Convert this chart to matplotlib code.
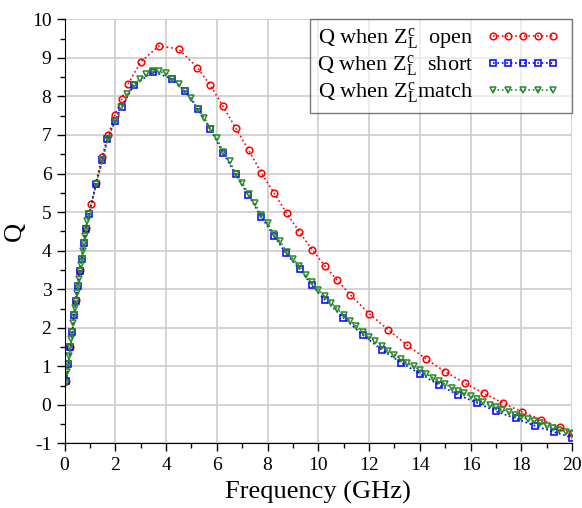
import matplotlib
matplotlib.use('Agg')
import matplotlib.pyplot as plt
from matplotlib.ticker import MultipleLocator
from matplotlib.legend_handler import HandlerLine2D

plt.rcParams['font.family'] = ['Liberation Serif', 'DejaVu Serif']
plt.rcParams['mathtext.fontset'] = 'custom'
plt.rcParams['mathtext.rm'] = 'Liberation Serif'
plt.rcParams['mathtext.it'] = 'Liberation Serif:italic'
plt.rcParams['axes.unicode_minus'] = False

# Q when Z_L^c open (red circles)
f_open = [0.06, 0.23, 0.44, 0.61, 0.84, 1.04, 1.24, 1.46, 1.72, 1.98, 2.25, 2.50, 3.01,
          3.72, 4.49, 5.23, 5.74, 6.24, 6.74, 7.25, 7.75, 8.26, 8.75, 9.25, 9.75, 10.25,
          10.75, 11.25, 12.0, 12.75, 13.5, 14.25, 15.0, 15.76, 16.52, 17.27, 18.02, 18.77,
          19.51, 20.0]
q_open = [0.62, 1.50, 2.72, 3.50, 4.60, 5.20, 5.76, 6.42, 6.99, 7.51, 7.94, 8.32, 8.90,
          9.31, 9.23, 8.75, 8.29, 7.75, 7.18, 6.61, 6.02, 5.49, 4.97, 4.49, 4.03, 3.61,
          3.23, 2.86, 2.37, 1.95, 1.55, 1.19, 0.86, 0.57, 0.30, 0.05, -0.18, -0.38,
          -0.58, -0.73]

# Q when Z_L^c short (blue squares)
f_short = [0.06, 0.15, 0.23, 0.31, 0.37, 0.44, 0.52, 0.61, 0.68, 0.77, 0.84, 0.97, 1.24,
           1.49, 1.68, 1.98, 2.25, 2.73, 3.49, 4.25, 4.73, 5.26, 5.74, 6.24, 6.74, 7.24,
           7.75, 8.24, 8.73, 9.26, 9.75, 10.25, 10.99, 11.74, 12.50, 13.25, 14.00, 14.75,
           15.51, 16.26, 17.02, 17.77, 18.53, 19.27, 20.0]
q_short = [0.61, 1.06, 1.49, 1.90, 2.34, 2.70, 3.08, 3.47, 3.79, 4.20, 4.57, 4.96, 5.72,
           6.35, 6.89, 7.35, 7.73, 8.29, 8.64, 8.45, 8.14, 7.67, 7.15, 6.54, 5.98, 5.44,
           4.88, 4.39, 3.93, 3.52, 3.10, 2.73, 2.26, 1.82, 1.43, 1.10, 0.81, 0.52,
           0.26, 0.05, -0.17, -0.35, -0.54, -0.70, -0.85]

# Q when Z_L^c match (green triangles)
f_match = [0.05, 0.10, 0.15, 0.19, 0.23, 0.27, 0.31, 0.34, 0.37, 0.41, 0.44, 0.48, 0.52,
           0.56, 0.61, 0.64, 0.68, 0.72, 0.77, 0.80, 0.84, 0.90, 0.97, 1.24, 1.49, 1.70,
           1.98, 2.22, 2.46, 2.72, 2.97, 3.22, 3.47, 3.72, 3.98, 4.24, 4.50, 4.75, 5.00,
           5.25, 5.50, 5.75, 6.00, 6.25, 6.50, 6.75, 7.00, 7.25, 7.50, 7.75, 8.00, 8.25,
           8.50, 8.75, 9.00, 9.25, 9.50, 9.75, 10.0, 10.25, 10.5, 10.75, 11.0, 11.25,
           11.5, 11.75, 12.0, 12.25, 12.5, 12.75, 13.0, 13.25, 13.5, 13.75, 14.0, 14.25,
           14.5, 14.75, 15.0, 15.25, 15.5, 15.75, 16.0, 16.25, 16.5, 16.75, 17.0, 17.25,
           17.5, 17.75, 18.0, 18.25, 18.5, 18.75, 19.0, 19.25, 19.5, 19.75, 20.0]
q_match = [0.58, 0.85, 1.06, 1.28, 1.49, 1.70, 1.90, 2.12, 2.34, 2.52, 2.70, 2.89, 3.08,
           3.27, 3.47, 3.63, 3.79, 4.00, 4.20, 4.38, 4.57, 4.77, 4.96, 5.72, 6.36, 6.90,
           7.36, 7.72, 8.06, 8.30, 8.46, 8.59, 8.65, 8.65, 8.60, 8.46, 8.33, 8.14, 7.95,
           7.68, 7.45, 7.16, 6.91, 6.56, 6.32, 6.00, 5.76, 5.47, 5.23, 4.92, 4.72, 4.43,
           4.24, 3.97, 3.79, 3.60, 3.38, 3.19, 2.99, 2.82, 2.65, 2.49, 2.32, 2.18,
           2.04, 1.89, 1.76, 1.65, 1.52, 1.41, 1.30, 1.19, 1.09, 1.00, 0.90, 0.81,
           0.71, 0.61, 0.54, 0.45, 0.37, 0.30, 0.23, 0.15, 0.08, 0.01, -0.06, -0.12,
           -0.19, -0.25, -0.31, -0.37, -0.42, -0.48, -0.54, -0.59, -0.64, -0.70, -0.76]

labels = [r'Q when $\mathrm{Z_L^c}$  open',
          r'Q when $\mathrm{Z_L^c}$  short',
          r'Q when $\mathrm{Z_L^c}$match']

fig = plt.figure(figsize=(5.82, 5.08), dpi=100)
ax = fig.add_axes([0.111, 0.127, 0.872, 0.835])

style = dict(ls=':', lw=1.2, ms=4.8, mfc='none', mew=1.1)
l1, = ax.plot(f_open, q_open, color='#ff0000', marker='o', label=labels[0], **style)
l2, = ax.plot(f_short, q_short, color='#0000ff', marker='s', label=labels[1], **style)
l3, = ax.plot(f_match, q_match, color='#2a8a2a', marker='v', label=labels[2], **style)

ax.set_xlim(0, 20)
ax.set_ylim(-1, 10)
ax.xaxis.set_major_locator(MultipleLocator(2))
ax.xaxis.set_minor_locator(MultipleLocator(1))
ax.yaxis.set_major_locator(MultipleLocator(1))
ax.yaxis.set_minor_locator(MultipleLocator(0.5))
ax.grid(which='major', color='#cccccc', lw=1.2)
ax.set_axisbelow(True)

ax.spines['top'].set_visible(False)
ax.spines['right'].set_visible(False)
ax.tick_params(which='major', direction='out', length=6, width=1, labelsize=14)
ax.tick_params(which='minor', direction='out', length=3.5, width=1)

ax.set_xlabel('Frequency (GHz)', fontsize=19, labelpad=5)
ax.set_ylabel('Q', fontsize=19, labelpad=4)

hmap = {l: HandlerLine2D(numpoints=5, marker_pad=0.55) for l in (l1, l2, l3)}
leg = ax.legend(loc='upper right', markerfirst=False, handler_map=hmap,
                handlelength=3.8, handletextpad=0.35, fontsize=16, borderaxespad=0,
                labelspacing=0.08, fancybox=False, edgecolor='#222222', framealpha=0.6,
                borderpad=0.3)
leg.get_frame().set_linewidth(1.0)

fig.savefig('out.png', dpi=100)
